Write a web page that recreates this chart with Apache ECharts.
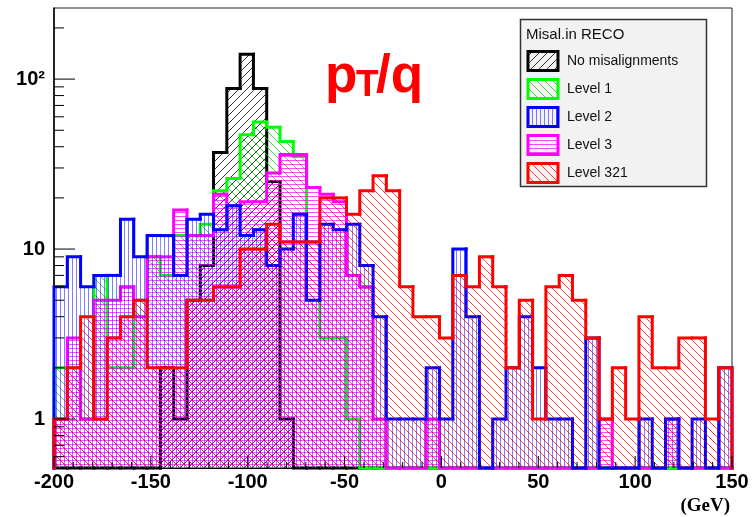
<!DOCTYPE html>
<html><head><meta charset="utf-8">
<script src="https://cdn.jsdelivr.net/npm/echarts@6/dist/echarts.min.js"></script>
<style>html,body{margin:0;padding:0;background:#fff}#c{width:752px;height:517px}</style>
</head><body><div id="c"></div>
<script>
// ---- data ----
const histMin = -200, histMax = 150, nBins = 51;
const seriesNames = ['No misalignments', 'Level 1', 'Level 2', 'Level 3', 'Level 321'];
const noMisalign = [0,0,0,0,0,0,0,0,2,1, 5,8,37,88,140,88,25,1,0,0, 0,0,0,0,0,0,0,0,0,0, 0,0,0,0,0,0,0,0,0,0, 0,0,0,0,0,0,0,0,0,0, 0];
const level1 =     [2,2,1,7,2,2,5,9,7,12, 12,14,22,26,47,56,52,43,35,11, 3,3,1,0,0,0,0,0,0,0, 0,0,0,0,0,0,0,0,0,0, 0,0,0,0,0,0,0,0,0,0, 0];
const level2 =     [6,9,6,7,7,15,9,12,12,7, 15,16,13,18,12,13,8,10,16,5, 14,13,14,8,4,1,1,1,2,1, 10,4,0,1,2,4,2,1,1,0, 3,0,0,0,1,0,1,0,1,0, 2];
const level3 =     [1,3,1,5,5,6,4,9,9,17, 12,12,21,18,19,19,28,36,36,23, 21,19,7,6,1,0,0,0,1,0, 0,0,0,0,0,0,0,0,0,0, 0,1,0,0,0,0,1,0,0,0, 0];
const level321 =   [1,2,4,1,3,4,5,2,2,2, 5,5,6,6,10,10,14,11,11,11, 20,20,16,22,27,22,6,4,4,3, 7,6,9,6,2,5,1,6,7,5, 3,1,2,1,4,2,2,3,3,1, 2];
const xTickLabels = [-200, -150, -100, -50, 0, 50, 100, 150];
const xMinorTicks = [-190,-180,-170,-160,-140,-130,-120,-110,-90,-80,-70,-60,-40,-30,-20,-10,10,20,30,40,60,70,80,90,110,120,130,140];
const yTickLabels = [1, 10, 100];
const yMinorTicks = [0.6,0.7,0.8,0.9,2,3,4,5,6,7,8,9,20,30,40,50,60,70,80,90,200];
const yMin = 0.515, yMax = 262;

// ---- styling ----
const FONT = "'Liberation Sans', Arial, sans-serif";
const binW = (histMax - histMin) / nBins;

function makePattern(kind, color) {
  const c = document.createElement('canvas');
  const ctx = c.getContext('2d');
  if (kind === 'v') { c.width = 4; c.height = 4; ctx.fillStyle = color; ctx.fillRect(0, 0, 1, 4); }
  else if (kind === 'h') { c.width = 4; c.height = 4; ctx.fillStyle = color; ctx.fillRect(0, 0, 4, 1); }
  else {
    const s = 8; c.width = s; c.height = s;
    ctx.strokeStyle = color; ctx.lineWidth = 1;
    ctx.beginPath();
    for (let k = -1; k <= 1; k++) {
      if (kind === 'u') { ctx.moveTo(k * s, s); ctx.lineTo(k * s + s, 0); }
      else { ctx.moveTo(k * s, 0); ctx.lineTo(k * s + s, s); }
    }
    ctx.stroke();
  }
  return { image: c, repeat: 'repeat' };
}

const styles = [
  { values: noMisalign, color: '#000000', pattern: makePattern('u', 'rgba(0,0,0,0.8)'), z: 2 },
  { values: level1, color: '#00ff00', pattern: makePattern('d', 'rgba(0,200,0,0.75)'), z: 3 },
  { values: level2, color: '#0000ff', pattern: makePattern('v', 'rgba(40,40,255,0.6)'), z: 5 },
  { values: level3, color: '#ff00ff', pattern: makePattern('h', 'rgba(255,0,255,0.7)'), z: 4 },
  { values: level321, color: '#ff0000', pattern: makePattern('d', 'rgba(255,0,0,0.75)'), z: 6 }
];

function histSeries(name, st) {
  const values = st.values;
  return {
    type: 'custom', name: name, z: st.z, silent: true,
    coordinateSystem: 'cartesian2d',
    data: values.map((v, i) => [histMin + (i + 0.5) * binW, v]),
    renderItem: function (params, api) {
      const i = params.dataIndex;
      const lvl = v => Math.max(v, yMin);
      const xl = histMin + i * binW, xr = xl + binW;
      const cur = lvl(values[i]);
      const prev = i > 0 ? lvl(values[i - 1]) : yMin;
      const a = api.coord([xl, cur]), b = api.coord([xr, cur]);
      const p = api.coord([xl, prev]);
      const base = api.coord([xl, yMin])[1];
      const pts = [p, a, b];
      if (i === values.length - 1) pts.push([b[0], base]);
      return {
        type: 'group', children: [
          { type: 'rect', shape: { x: a[0], y: a[1], width: b[0] - a[0], height: Math.max(0, base - a[1]) }, style: { fill: st.pattern } },
          { type: 'polyline', shape: { points: pts }, style: { stroke: st.color, lineWidth: 3, fill: null, lineCap: 'square', lineJoin: 'miter' } }
        ]
      };
    }
  };
}

const series = seriesNames.map((n, k) => histSeries(n, styles[k]));

const xTickAll = xTickLabels.map(v => [v, 12]).concat(xMinorTicks.map(v => [v, 6]));
const yTickAll = yTickLabels.map(v => [v, 21]).concat(yMinorTicks.map(v => [v, 10]));
series.push({
  type: 'custom', z: 10, silent: true, coordinateSystem: 'cartesian2d',
  data: xTickAll.map(t => [t[0], yMin]),
  renderItem: function (params, api) {
    const t = xTickAll[params.dataIndex];
    const p = api.coord([t[0], yMin]);
    return { type: 'line', shape: { x1: p[0], y1: p[1], x2: p[0], y2: p[1] - t[1] }, style: { stroke: '#000', lineWidth: 1 } };
  }
});
series.push({
  type: 'custom', z: 10, silent: true, coordinateSystem: 'cartesian2d',
  data: yTickAll.map(t => [histMin, t[0]]),
  renderItem: function (params, api) {
    const t = yTickAll[params.dataIndex];
    const p = api.coord([histMin, t[0]]);
    return { type: 'line', shape: { x1: p[0], y1: p[1], x2: p[0] + t[1], y2: p[1] }, style: { stroke: '#000', lineWidth: 1 } };
  }
});

// legend (graphic)
const legX = 520.5, legY = 19.5, legW = 186, legH = 167;
const legendChildren = [
  { type: 'rect', shape: { x: legX, y: legY, width: legW, height: legH }, style: { fill: '#f2f2f2', stroke: '#333', lineWidth: 1.5 } },
  { type: 'text', style: { text: 'Misal.in RECO', x: 526, y: 35, font: '15px ' + FONT, fill: '#111', verticalAlign: 'middle' } }
];
const rowC = [61, 89, 117, 145, 173];
seriesNames.forEach((n, k) => {
  legendChildren.push({ type: 'rect', shape: { x: 528, y: rowC[k] - 9.5, width: 30, height: 19 }, style: { fill: styles[k].pattern, stroke: styles[k].color, lineWidth: 3 } });
  legendChildren.push({ type: 'text', style: { text: n, x: 567, y: rowC[k], font: '14px ' + FONT, fill: '#111', verticalAlign: 'middle' } });
});

const chart = echarts.init(document.getElementById('c'), null, { renderer: 'canvas' });
chart.setOption({
  animation: false,
  backgroundColor: '#ffffff',
  grid: { left: 54, right: 20, top: 8, bottom: 49, containLabel: false, show: true, borderColor: '#222', borderWidth: 1, backgroundColor: 'transparent' },
  xAxis: {
    type: 'value', min: histMin, max: histMax, interval: 50,
    axisLine: { show: true, onZero: false, lineStyle: { color: '#000', width: 1 } },
    axisTick: { show: false }, splitLine: { show: false },
    axisLabel: { color: '#000', fontSize: 20, fontWeight: 'bold', fontFamily: FONT, margin: 4, showMinLabel: true, showMaxLabel: true }
  },
  yAxis: {
    type: 'log', logBase: 10, min: yMin, max: yMax,
    axisLine: { show: true, onZero: false, lineStyle: { color: '#000', width: 1.5 } },
    axisTick: { show: false }, splitLine: { show: false }, minorTick: { show: false },
    axisLabel: {
      color: '#000', fontSize: 20, fontWeight: 'bold', fontFamily: FONT, margin: 9,
      formatter: function (v) {
        const e = Math.log10(v), r = Math.round(e);
        if (Math.abs(e - r) > 1e-6) return '';
        if (r === 0) return '1';
        if (r === 1) return '10';
        if (r === 2) return '10²';
        return '';
      }
    }
  },
  series: series,
  graphic: [
    { type: 'group', z: 100, children: legendChildren },
    { type: 'text', z: 100, style: { text: 'p', x: 325, y: 77, font: 'bold 53px ' + FONT, fill: '#ff0000', verticalAlign: 'middle' } },
    { type: 'text', z: 100, style: { text: 'T', x: 356, y: 86, font: 'bold 37px ' + FONT, fill: '#ff0000', verticalAlign: 'middle' } },
    { type: 'text', z: 100, style: { text: '/q', x: 376, y: 77, font: 'bold 53px ' + FONT, fill: '#ff0000', verticalAlign: 'middle' } },
    { type: 'text', z: 100, style: { text: '(GeV)', x: 730, y: 506, font: 'bold 19px "Liberation Serif", "Times New Roman", serif', fill: '#000', align: 'right', verticalAlign: 'middle' } }
  ]
});
</script></body></html>
